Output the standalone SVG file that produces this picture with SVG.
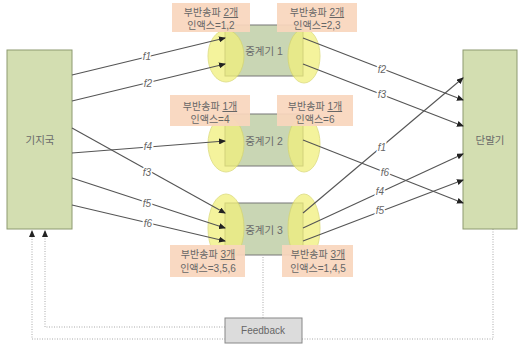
<svg xmlns="http://www.w3.org/2000/svg" width="523" height="348" viewBox="0 0 523 348">
<style>
text{font-family:"Liberation Sans","Noto Sans CJK KR",sans-serif;fill:#666}
.big{fill:#d3deb1;stroke:#8d9a70;stroke-width:1}
.relay{fill:#c9d6b4;stroke:#777;stroke-width:1}
.ell{fill:#f1f07c;stroke:#d9d86a;stroke-width:1;opacity:0.75}
.lab{fill:#f9d6bd;opacity:0.92}
.lt{font-size:10px;text-anchor:middle}
.rt{font-size:10.5px;text-anchor:middle;fill:#6a6a6a}
.conn line{stroke:#555;stroke-width:1.1}
.fl{font-size:10px;font-style:italic;text-anchor:middle;fill:#666;stroke:#fff;stroke-width:3;paint-order:stroke}
.dot{fill:none;stroke:#aaa;stroke-width:1;stroke-dasharray:1 1.5}
</style>
<defs>
<marker id="ah" markerUnits="userSpaceOnUse" markerWidth="7" markerHeight="6" refX="6" refY="3" orient="auto">
<path d="M0,0 L7,3 L0,6 Z" fill="#222"/>
</marker>
</defs>
<rect width="523" height="348" fill="#fff"/>

<g id="feedback-lines">
<polyline class="dot" points="263,257 263,318"/>
<polyline class="dot" points="225,327 45,327 45,231" marker-end="url(#ah)"/>
<polyline class="dot" points="493,229 493,339 32,339 32,231" marker-end="url(#ah)"/>
</g>

<g id="bs">
<rect class="big" x="7" y="50" width="65" height="179"/>
<text class="rt" x="40" y="144">기지국</text>
</g>
<g id="ue">
<rect class="big" x="463" y="50" width="54" height="179"/>
<text class="rt" x="490" y="144">단말기</text>
</g>

<g id="relay1">
<rect class="relay" x="225" y="25" width="78" height="51"/>
<ellipse class="ell" cx="226" cy="56" rx="18" ry="26"/>
<ellipse class="ell" cx="304" cy="56" rx="16" ry="27"/>
<text class="rt" x="264" y="55">중계기 1</text>
</g>
<g id="relay2">
<rect class="relay" x="225" y="114" width="78" height="52"/>
<ellipse class="ell" cx="226" cy="144" rx="18" ry="28"/>
<ellipse class="ell" cx="304" cy="144" rx="16" ry="28"/>
<text class="rt" x="264" y="145">중계기 2</text>
</g>
<g id="relay3">
<rect class="relay" x="225" y="203" width="78" height="52"/>
<ellipse class="ell" cx="226" cy="228" rx="18" ry="34"/>
<ellipse class="ell" cx="304" cy="228" rx="16" ry="34"/>
<text class="rt" x="264" y="234">중계기 3</text>
</g>

<g id="label-r1-in">
<rect class="lab" x="172" y="3" width="78" height="29"/>
<text class="lt" x="211" y="16">부반송파 <tspan text-decoration="underline">2개</tspan></text>
<text class="lt" x="211" y="29">인액스=1,2</text>
</g>
<g id="label-r1-out">
<rect class="lab" x="277" y="3" width="80" height="29"/>
<text class="lt" x="317" y="16">부반송파 <tspan text-decoration="underline">2개</tspan></text>
<text class="lt" x="317" y="29">인액스=2,3</text>
</g>
<g id="label-r2-in">
<rect class="lab" x="170" y="95" width="80" height="31"/>
<text class="lt" x="210" y="110">부반송파 <tspan text-decoration="underline">1개</tspan></text>
<text class="lt" x="210" y="123">인액스=4</text>
</g>
<g id="label-r2-out">
<rect class="lab" x="277" y="95" width="76" height="31"/>
<text class="lt" x="315" y="110">부반송파 <tspan text-decoration="underline">1개</tspan></text>
<text class="lt" x="315" y="123">인액스=6</text>
</g>
<g id="label-r3-in">
<rect class="lab" x="170" y="245" width="75" height="32"/>
<text class="lt" x="208" y="258">부반송파 <tspan text-decoration="underline">3개</tspan></text>
<text class="lt" x="208" y="272">인액스=3,5,6</text>
</g>
<g id="label-r3-out">
<rect class="lab" x="282" y="245" width="71" height="32"/>
<text class="lt" x="318" y="258">부반송파 <tspan text-decoration="underline">3개</tspan></text>
<text class="lt" x="318" y="272">인액스=1,4,5</text>
</g>

<g id="feedback">
<rect x="225" y="318" width="77" height="25" fill="#dcdcdc" stroke="#888" stroke-width="1"/>
<text x="263" y="334" font-size="10" text-anchor="middle" fill="#555">Feedback</text>
</g>

<g id="connectors" class="conn">
<line x1="72" y1="75" x2="225" y2="38" marker-end="url(#ah)"/>
<line x1="72" y1="101" x2="225" y2="64" marker-end="url(#ah)"/>
<line x1="72" y1="153" x2="225" y2="141" marker-end="url(#ah)"/>
<line x1="72" y1="128" x2="225" y2="213" marker-end="url(#ah)"/>
<line x1="72" y1="178" x2="225" y2="228" marker-end="url(#ah)"/>
<line x1="72" y1="205" x2="225" y2="241" marker-end="url(#ah)"/>
<line x1="303" y1="38" x2="463" y2="100" marker-end="url(#ah)"/>
<line x1="303" y1="64" x2="463" y2="126" marker-end="url(#ah)"/>
<line x1="303" y1="140" x2="463" y2="203" marker-end="url(#ah)"/>
<line x1="303" y1="213" x2="463" y2="78" marker-end="url(#ah)"/>
<line x1="303" y1="228" x2="463" y2="154" marker-end="url(#ah)"/>
<line x1="303" y1="241" x2="463" y2="180" marker-end="url(#ah)"/>
<text class="fl" x="147" y="60">f1</text>
<text class="fl" x="148" y="87">f2</text>
<text class="fl" x="148" y="150">f4</text>
<text class="fl" x="147" y="176">f3</text>
<text class="fl" x="147" y="207">f5</text>
<text class="fl" x="148" y="227">f6</text>
<text class="fl" x="382" y="73">f2</text>
<text class="fl" x="382" y="98">f3</text>
<text class="fl" x="382" y="151">f1</text>
<text class="fl" x="385" y="176">f6</text>
<text class="fl" x="380" y="195">f4</text>
<text class="fl" x="380" y="214">f5</text>
</g>
</svg>
